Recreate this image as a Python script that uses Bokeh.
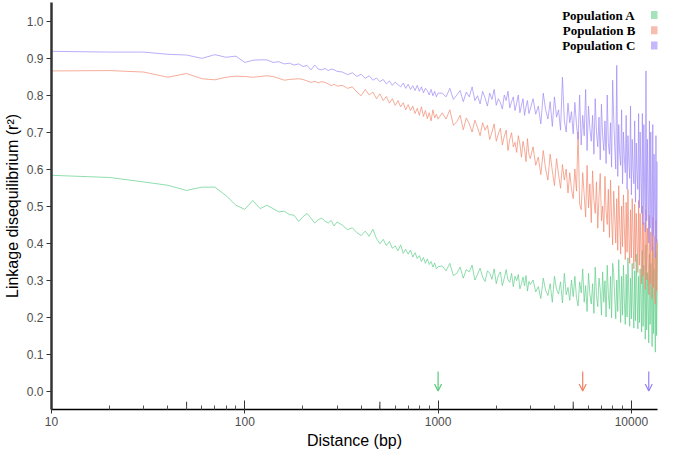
from bokeh.plotting import figure
from bokeh.models import (Range1d, FixedTicker, NumeralTickFormatter, Arrow, OpenHead,
                          ColumnDataSource)
from bokeh.core.properties import value
from bokeh.embed import file_html
from bokeh.resources import INLINE

# ---------------- data ----------------
distance = (list(range(10, 101, 10)) + list(range(110, 301, 10)) + list(range(320, 1001, 20))
            + list(range(1050, 3001, 50)) + list(range(3100, 13901, 100)))

pop_a = [0.583, 0.577, 0.565, 0.556, 0.542, 0.551, 0.551, 0.528, 0.502, 0.491,
         0.515, 0.493, 0.502, 0.493, 0.484, 0.486, 0.477, 0.475, 0.458, 0.471,
         0.480, 0.467, 0.454, 0.463, 0.467, 0.459, 0.454, 0.461, 0.446, 0.457,
         0.448, 0.436, 0.441, 0.428, 0.420, 0.432, 0.418, 0.437, 0.412, 0.398,
         0.410, 0.393, 0.404, 0.386, 0.392, 0.379, 0.395, 0.372, 0.383, 0.370,
         0.381, 0.362, 0.374, 0.358, 0.366, 0.350, 0.361, 0.345, 0.357, 0.342,
         0.350, 0.335, 0.346, 0.330, 0.336,
         0.338, 0.325, 0.345, 0.312, 0.318, 0.335, 0.305, 0.328, 0.322, 0.340,
         0.300, 0.315, 0.332, 0.308, 0.296, 0.325, 0.318, 0.302, 0.330, 0.290,
         0.312, 0.322, 0.285, 0.305, 0.328, 0.300, 0.294, 0.318, 0.282, 0.310,
         0.298, 0.315, 0.276, 0.290, 0.308, 0.284, 0.312, 0.270, 0.296, 0.288,
         0.300, 0.268, 0.282, 0.250, 0.305, 0.272, 0.258, 0.290, 0.240, 0.310,
         0.275, 0.262, 0.295, 0.238, 0.318, 0.260, 0.280, 0.245, 0.300, 0.255,
         0.310, 0.252, 0.230, 0.295, 0.265, 0.330, 0.240, 0.285, 0.215, 0.318,
         0.262, 0.235, 0.290, 0.210, 0.335, 0.258, 0.228, 0.305, 0.275, 0.205,
         0.322, 0.240, 0.298, 0.200, 0.340, 0.262, 0.222, 0.310, 0.198, 0.345,
         0.320, 0.250, 0.195, 0.300, 0.215, 0.355, 0.270, 0.185, 0.310, 0.205,
         0.340, 0.240, 0.180, 0.315, 0.200, 0.360, 0.260, 0.175, 0.305, 0.195,
         0.345, 0.230, 0.170, 0.325, 0.190, 0.370, 0.250, 0.168, 0.310, 0.185,
         0.330, 0.250, 0.160, 0.380, 0.175, 0.340, 0.260, 0.140, 0.395, 0.165,
         0.320, 0.230, 0.130, 0.370, 0.180, 0.345, 0.270, 0.120, 0.390, 0.155,
         0.330, 0.240, 0.105, 0.375, 0.150, 0.400, 0.260, 0.135, 0.360]

pop_b = [0.865, 0.866, 0.862, 0.848, 0.858, 0.844, 0.841, 0.848, 0.851, 0.850,
         0.848, 0.850, 0.852, 0.850, 0.845, 0.840, 0.842, 0.843, 0.844, 0.842,
         0.838, 0.834, 0.837, 0.833, 0.836, 0.834, 0.830, 0.825, 0.829, 0.824,
         0.826, 0.818, 0.822, 0.808, 0.798, 0.815, 0.800, 0.808, 0.790, 0.803,
         0.785, 0.796, 0.778, 0.790, 0.772, 0.785, 0.768, 0.779, 0.760, 0.774,
         0.758, 0.770, 0.750, 0.764, 0.745, 0.768, 0.742, 0.758, 0.736, 0.752,
         0.730, 0.760, 0.738, 0.748, 0.735,
         0.752, 0.735, 0.760, 0.718, 0.728, 0.745, 0.706, 0.738, 0.722, 0.700,
         0.732, 0.712, 0.690, 0.725, 0.705, 0.718, 0.680, 0.700, 0.722, 0.675,
         0.695, 0.710, 0.665, 0.688, 0.705, 0.650, 0.680, 0.698, 0.660, 0.672,
         0.645, 0.690, 0.668, 0.632, 0.675, 0.655, 0.620, 0.682, 0.640, 0.628,
         0.660, 0.610, 0.632, 0.585, 0.650, 0.600, 0.570, 0.640, 0.595, 0.555,
         0.628, 0.585, 0.548, 0.612, 0.570, 0.600, 0.535, 0.590, 0.545, 0.520,
         0.600, 0.540, 0.700, 0.505, 0.490, 0.590, 0.530, 0.470, 0.610, 0.495,
         0.560, 0.455, 0.595, 0.515, 0.480, 0.565, 0.440, 0.525, 0.588, 0.460,
         0.500, 0.430, 0.580, 0.485, 0.450, 0.545, 0.415, 0.570, 0.470, 0.395,
         0.540, 0.470, 0.400, 0.520, 0.380, 0.555, 0.450, 0.370, 0.500, 0.390,
         0.530, 0.440, 0.355, 0.510, 0.375, 0.545, 0.420, 0.345, 0.490, 0.360,
         0.520, 0.430, 0.330, 0.505, 0.350, 0.480, 0.400, 0.320, 0.515, 0.340,
         0.480, 0.380, 0.290, 0.500, 0.310, 0.455, 0.360, 0.275, 0.490, 0.300,
         0.440, 0.350, 0.260, 0.475, 0.290, 0.430, 0.330, 0.250, 0.470, 0.280,
         0.420, 0.320, 0.235, 0.460, 0.270, 0.410, 0.300, 0.225, 0.380]

pop_c = [0.918, 0.916, 0.916, 0.910, 0.908, 0.899, 0.909, 0.902, 0.905, 0.888,
         0.894, 0.895, 0.895, 0.888, 0.890, 0.884, 0.886, 0.881, 0.884, 0.877,
         0.880, 0.868, 0.881, 0.870, 0.868, 0.872, 0.866, 0.870, 0.868, 0.864,
         0.862, 0.855, 0.860, 0.850, 0.856, 0.845, 0.852, 0.840, 0.846, 0.836,
         0.842, 0.830, 0.838, 0.826, 0.835, 0.828, 0.822, 0.832, 0.818, 0.829,
         0.815, 0.825, 0.812, 0.826, 0.810, 0.822, 0.806, 0.818, 0.812, 0.800,
         0.815, 0.798, 0.810, 0.795, 0.805,
         0.805, 0.795, 0.818, 0.788, 0.800, 0.812, 0.782, 0.808, 0.795, 0.822,
         0.785, 0.798, 0.776, 0.810, 0.792, 0.770, 0.805, 0.788, 0.815, 0.772,
         0.790, 0.780, 0.762, 0.800, 0.785, 0.810, 0.765, 0.782, 0.795, 0.758,
         0.778, 0.800, 0.752, 0.772, 0.790, 0.745, 0.768, 0.785, 0.750, 0.762,
         0.790, 0.748, 0.770, 0.722, 0.805, 0.760, 0.735, 0.782, 0.715, 0.795,
         0.740, 0.760, 0.705, 0.848, 0.730, 0.700, 0.778, 0.725, 0.755, 0.695,
         0.780, 0.720, 0.680, 0.800, 0.665, 0.745, 0.690, 0.815, 0.650, 0.770,
         0.710, 0.675, 0.745, 0.640, 0.790, 0.700, 0.660, 0.740, 0.625, 0.775,
         0.690, 0.650, 0.730, 0.615, 0.800, 0.670, 0.640, 0.725, 0.605, 0.840,
         0.740, 0.660, 0.600, 0.880, 0.580, 0.720, 0.640, 0.610, 0.760, 0.560,
         0.700, 0.630, 0.590, 0.745, 0.545, 0.690, 0.620, 0.575, 0.770, 0.530,
         0.680, 0.600, 0.560, 0.730, 0.510, 0.670, 0.590, 0.545, 0.750, 0.495,
         0.700, 0.580, 0.480, 0.750, 0.450, 0.720, 0.560, 0.430, 0.865, 0.460,
         0.680, 0.540, 0.400, 0.730, 0.440, 0.700, 0.520, 0.380, 0.720, 0.420,
         0.640, 0.500, 0.360, 0.690, 0.400, 0.620, 0.480, 0.340, 0.580]

assert len(distance) == len(pop_a) == len(pop_b) == len(pop_c)

series_names = ["Population A", "Population B", "Population C"]
arrow_x = [1000, 5600, 12300]          # decay distances marked with arrows
y_ticks = [0.0, 0.1, 0.2, 0.3, 0.4, 0.5, 0.6, 0.7, 0.8, 0.9, 1.0]
x_major = [10, 100, 1000, 10000]
x_minor = [20, 30, 40, 50, 60, 70, 80, 90, 200, 300, 400, 500, 600, 700, 800, 900,
           2000, 3000, 4000, 5000, 6000, 7000, 8000, 9000]
x_mid = [50, 500, 5000]

# ---------------- style ----------------
line_colors = ["#5fcf8a", "#f2896d", "#9f8af7"]
legend_colors = ["#a6e3bd", "#f8bdb0", "#c5b8fb"]
arrow_colors = ["#55c97c", "#f08064", "#9680f5"]
X_MIN, X_MAX = 10, 13650
Y_MIN, Y_MAX = -0.05, 1.05

p = figure(width=659, height=451, x_axis_type="log",
           x_range=Range1d(X_MIN, X_MAX), y_range=Range1d(Y_MIN, Y_MAX),
           output_backend="svg", toolbar_location=None,
           min_border_left=40, min_border_right=2, min_border_top=2, min_border_bottom=30)
p.outline_line_color = None
p.grid.visible = False
p.background_fill_color = "white"

for ys, col in zip([pop_a, pop_b, pop_c], line_colors):
    p.line(distance, ys, line_color=col, line_alpha=0.7, line_width=1)

# arrows
for xv, col in zip(arrow_x, arrow_colors):
    p.add_layout(Arrow(x_start=xv, y_start=0.053, x_end=xv, y_end=0.0,
                       line_color=col, line_width=1.2,
                       end=OpenHead(size=7, line_color=col, line_width=1.2)))

# medium log ticks at 5s
p.segment(x0=x_mid, x1=x_mid, y0=[Y_MIN] * 3, y1=[Y_MIN + 0.021] * 3,
          line_color="#333333", line_width=1)

# legend (label then swatch)
leg_y = [1.016, 0.975, 0.934]
leg_src = ColumnDataSource(dict(name=series_names, y=leg_y, c=legend_colors,
                                tx=[10500] * 3, sx=[13250] * 3))
p.text(x="tx", y="y", text="name", source=leg_src, text_align="right",
       text_baseline="middle", text_font=value("Liberation Serif"),
       text_font_style="bold", text_font_size="13px", text_color="black")
p.scatter(x="sx", y="y", marker="square", size=8, color="c", line_color=None, source=leg_src)

# axes
xa = p.xaxis[0]
xa.ticker = FixedTicker(ticks=x_major, minor_ticks=x_minor)
xa.formatter = NumeralTickFormatter(format="0")
xa.axis_label = "Distance (bp)"
xa.axis_line_color = "black"
xa.axis_line_width = 1.5
xa.major_tick_in = 9
xa.major_tick_out = 4
xa.minor_tick_in = 4
xa.minor_tick_out = 0
xa.major_tick_line_color = "#333333"
xa.minor_tick_line_color = "#555555"

ya = p.yaxis[0]
ya.ticker = FixedTicker(ticks=y_ticks)
ya.formatter = NumeralTickFormatter(format="0.0")
ya.axis_label = "Linkage disequilibrium (r²)"
ya.axis_line_color = "#333333"
ya.axis_line_width = 2.5
ya.major_tick_in = 0
ya.major_tick_out = 5
ya.minor_tick_line_color = None
ya.major_tick_line_color = "#333333"

for ax in (xa, ya):
    ax.major_label_text_font = "Liberation Sans"
    ax.major_label_text_font_size = "12px"
    ax.major_label_text_color = "#4d4d4d"
    ax.major_label_standoff = 3
    ax.axis_label_text_font = "Liberation Sans"
    ax.axis_label_text_font_size = "16px"
    ax.axis_label_text_font_style = "normal"
    ax.axis_label_text_color = "black"
    ax.axis_label_standoff = 3

open("out.html", "w").write(file_html(p, INLINE))
